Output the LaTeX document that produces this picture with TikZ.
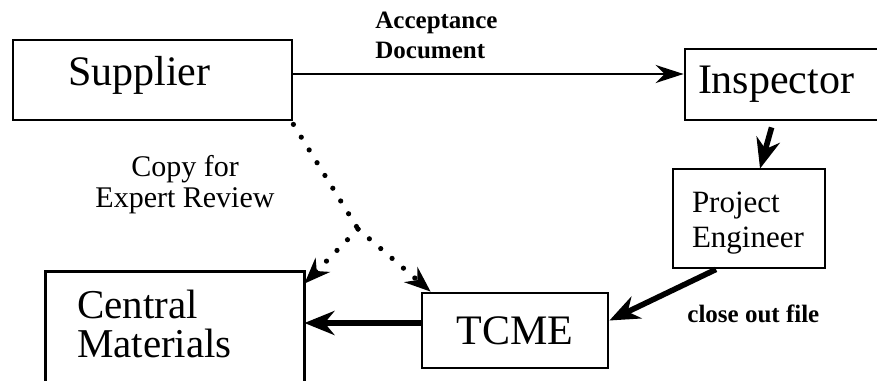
\documentclass[tikz,border=0pt]{standalone}
\usepackage{fontspec}
\setmainfont{Liberation Serif}
\usetikzlibrary{arrows.meta}

\begin{document}
\begin{tikzpicture}[x=0.5pt,y=-0.5pt,
  box/.style={draw, line width=1.4pt, inner ysep=0pt,
    font=\fontsize{21pt}{25pt}\selectfont},
  note/.style={inner sep=0pt, font=\bfseries\fontsize{12.5pt}{15pt}\selectfont},
  flow/.style={line width=1.3pt, -{Stealth[length=14pt,width=9pt]}},
  heavy/.style={line width=2.8pt, -{Stealth[length=15pt,width=12pt]}},
  copyline/.style={line width=2.6pt, line cap=round, dash pattern=on 0pt off 7.5pt},
  copytip/.style={-{Stealth[length=13pt,width=10pt]}},
]
\useasboundingbox (0,0) rectangle (877,380);
\clip (0,0) rectangle (877,380);

% parties
\node[box, text width=84.5pt, inner xsep=27.5pt, align=left, minimum height=40pt,
      text height=14pt, text depth=9pt] (sup) at (152.5,80) {Supplier};
\node[box, text width=89.5pt, inner xsep=6.5pt, align=left, minimum height=35.5pt]
      (insp) at (787.5,84.5) {Inspector};
\node[box, text width=57pt, inner xsep=9.5pt, align=left, minimum height=49.5pt,
      font=\fontsize{15.5pt}{17.5pt}\selectfont] (pe) at (749,218.5)
      {\rule{0pt}{15pt}Project\\Engineer};
\node[box, minimum width=93pt, minimum height=37.5pt, inner xsep=0pt]
      (tcme) at (515,330.5) {TCME};
\node[box, draw=none, text width=98pt, inner xsep=15pt, align=left, minimum height=51pt,
      font=\fontsize{20.5pt}{18.5pt}\selectfont] (central) at (175,324)
      {Central\\[1pt]Materials};
% the Central Materials box runs on below the page
\draw[line width=1.4pt] ([yshift=-12pt]central.south west) -- (central.north west)
  -- (central.north east) -- ([yshift=-12pt]central.south east);

% labels
\node[note, anchor=north west, align=left] (acc) at (375,12) {Acceptance\\Document};
\node[anchor=north, align=center, inner sep=0pt,
      font=\fontsize{15pt}{15.5pt}\selectfont] (copy) at (185,155) {Copy for\\Expert Review};
\node[note, anchor=base west] (close) at (687,322) {close out file};

% document flow
\draw[flow] ([yshift=3pt]sup.east) -- ([yshift=3pt]sup.east -| insp.west);
\draw[heavy] ([xshift=44pt,yshift=-3pt]insp.south west) -- ([xshift=5.5pt,yshift=-0.5pt]pe.north);
\draw[heavy] ([xshift=-16.5pt]pe.south) -- ([yshift=5pt]tcme.east);
\draw[heavy] ([yshift=3.75pt]tcme.west) -- ([yshift=3.75pt]tcme.west -| central.east);

% copies for expert review
\coordinate (split) at (358,229);
\draw[copyline] ([yshift=-1.5pt]sup.south east) -- (split);
\draw[copyline, copytip] (split) -- ([xshift=5pt]tcme.north west);
\draw[copyline, copytip] (split) -- ([yshift=-6pt]central.north east);
\end{tikzpicture}
\end{document}
